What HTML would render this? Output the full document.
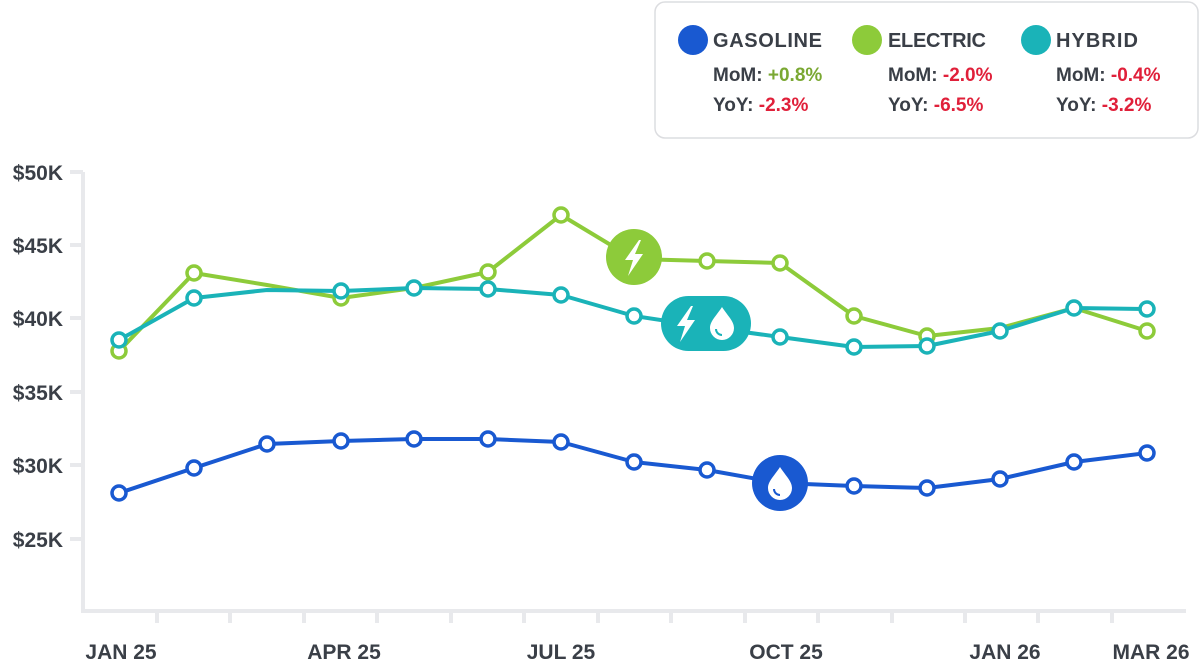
<!DOCTYPE html>
<html><head><meta charset="utf-8"><style>
html,body{margin:0;padding:0;background:#fff;}
svg{display:block;font-family:"Liberation Sans",sans-serif;}
</style></head><body>
<svg width="1200" height="665" viewBox="0 0 1200 665">
<rect width="1200" height="665" fill="#fff"/>
<g stroke="#e8e9ec" stroke-width="4" fill="none">
<path d="M83 172 V611 H1186"/>
<path d="M157 611v12M230 611v12M304 611v12M377 611v12M451 611v12M524 611v12M598 611v12M671 611v12M745 611v12M818 611v12M892 611v12M965 611v12M1038 611v12M1112 611v12"/>
<path d="M70 172h13M70 245h13M70 318h13M70 392h13M70 465h13M70 539h13"/>
</g>
<g font-size="21" font-weight="bold" fill="#3a3f47" text-anchor="end">
<text x="63" y="180">$50K</text><text x="63" y="253">$45K</text><text x="63" y="326">$40K</text>
<text x="63" y="400">$35K</text><text x="63" y="473">$30K</text><text x="63" y="547">$25K</text>
</g>
<g font-size="21" font-weight="bold" fill="#3a3f47" text-anchor="middle">
<text x="121" y="659">JAN 25</text><text x="344" y="659">APR 25</text><text x="561" y="659">JUL 25</text>
<text x="786" y="659">OCT 25</text><text x="1005" y="659">JAN 26</text><text x="1151" y="659">MAR 26</text>
</g>
<g fill="none" stroke-width="4" stroke-linejoin="round">
<polyline stroke="#8dcb3a" points="119,351 194,273 267,285 341,298 414,288 488,272 561,215 634,259 707,261 780,263 854,316 927,336 1000,328 1074,308 1147,331"/>
<polyline stroke="#1ab3b8" points="119,340 194,298 267,290 341,291 414,288 488,289 561,295 634,316 707,327 780,337 854,347 927,346 1000,331 1074,308 1147,309"/>
<polyline stroke="#1959d1" points="119,493 194,468 267,444 341,441 414,439 488,439 561,442 634,462 707,470 780,483 854,486 927,488 1000,479 1074,462 1147,453"/>
</g>
<g fill="#fff" stroke-width="3.5">
<g stroke="#8dcb3a"><circle cx="119" cy="351" r="7"/><circle cx="194" cy="273" r="7"/><circle cx="341" cy="298" r="7"/><circle cx="488" cy="272" r="7"/><circle cx="561" cy="215" r="7"/><circle cx="707" cy="261" r="7"/><circle cx="780" cy="263" r="7"/><circle cx="854" cy="316" r="7"/><circle cx="927" cy="336" r="7"/><circle cx="1147" cy="331" r="7"/></g>
<g stroke="#1ab3b8"><circle cx="119" cy="340" r="7"/><circle cx="194" cy="298" r="7"/><circle cx="341" cy="291" r="7"/><circle cx="414" cy="288" r="7"/><circle cx="488" cy="289" r="7"/><circle cx="561" cy="295" r="7"/><circle cx="634" cy="316" r="7"/><circle cx="780" cy="337" r="7"/><circle cx="854" cy="347" r="7"/><circle cx="927" cy="346" r="7"/><circle cx="1000" cy="331" r="7"/><circle cx="1074" cy="308" r="7"/><circle cx="1147" cy="309" r="7"/></g>
<g stroke="#1959d1"><circle cx="119" cy="493" r="7"/><circle cx="194" cy="468" r="7"/><circle cx="267" cy="444" r="7"/><circle cx="341" cy="441" r="7"/><circle cx="414" cy="439" r="7"/><circle cx="488" cy="439" r="7"/><circle cx="561" cy="442" r="7"/><circle cx="634" cy="462" r="7"/><circle cx="707" cy="470" r="7"/><circle cx="854" cy="486" r="7"/><circle cx="927" cy="488" r="7"/><circle cx="1000" cy="479" r="7"/><circle cx="1074" cy="462" r="7"/><circle cx="1147" cy="453" r="7"/></g>
</g>
<defs>
<path id="bolt" d="M5 -17 L-9 3 L-1 3 L-6 19 L9 -3 L1 -3 L7 -17Z" fill="#fff"/>
<g id="drop"><path d="M0 -16 C5 -8 12 -2 12 5 A12 12 0 0 1 -12 5 C-12 -2 -5 -8 0 -16Z" fill="#fff"/><path d="M-6 6 A6 6 0 0 0 0 12" fill="none" stroke="currentColor" stroke-width="2"/></g>
</defs>
<circle cx="634" cy="257" r="28" fill="#8dcb3a"/><use href="#bolt" x="634" y="257"/>
<rect x="661" y="296" width="90" height="55" rx="27.5" fill="#1ab3b8"/><use href="#bolt" x="686" y="323"/><use href="#drop" x="722" y="323" color="#1ab3b8"/>
<circle cx="780" cy="483" r="28" fill="#1959d1"/><use href="#drop" x="780" y="483" color="#1959d1"/>
<rect x="655" y="2" width="543" height="136" rx="10" fill="#fff" stroke="#dcdde0" stroke-width="1.5"/>
<g font-size="20" font-weight="bold">
<circle cx="693" cy="40" r="15" fill="#1959d1"/><text x="713" y="47" fill="#3a3f47" textLength="109">GASOLINE</text>
<circle cx="867" cy="40" r="15" fill="#8dcb3a"/><text x="888" y="47" fill="#3a3f47" textLength="98">ELECTRIC</text>
<circle cx="1036" cy="40" r="15" fill="#1ab3b8"/><text x="1056" y="47" fill="#3a3f47" textLength="82">HYBRID</text>
<g font-size="19">
<text x="713" y="81" fill="#3a3f47">MoM: <tspan fill="#7aa832">+0.8%</tspan></text>
<text x="713" y="111" fill="#3a3f47">YoY: <tspan fill="#e0203a">-2.3%</tspan></text>
<text x="888" y="81" fill="#3a3f47">MoM: <tspan fill="#e0203a">-2.0%</tspan></text>
<text x="888" y="111" fill="#3a3f47">YoY: <tspan fill="#e0203a">-6.5%</tspan></text>
<text x="1056" y="81" fill="#3a3f47">MoM: <tspan fill="#e0203a">-0.4%</tspan></text>
<text x="1056" y="111" fill="#3a3f47">YoY: <tspan fill="#e0203a">-3.2%</tspan></text>
</g></g>
</svg>
</body></html>
